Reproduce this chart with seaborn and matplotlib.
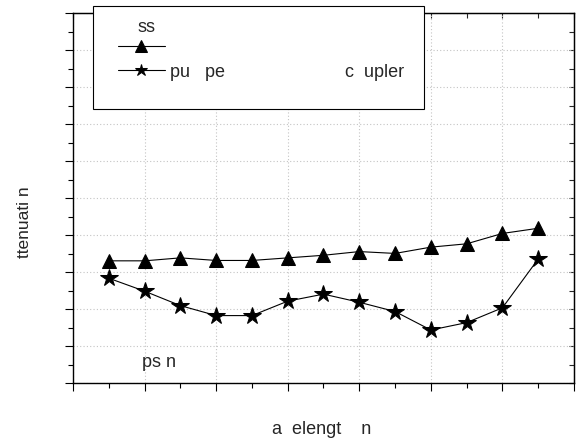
import matplotlib
matplotlib.use("Agg")
import matplotlib.pyplot as plt
import seaborn as sns
import pandas as pd
from matplotlib.ticker import MultipleLocator
from matplotlib.patches import Rectangle

# ---- data ----
wavelength = [1525, 1530, 1535, 1540, 1545, 1550, 1555, 1560, 1565, 1570, 1575, 1580, 1585]
loss_values = [3.31, 3.31, 3.39, 3.32, 3.32, 3.39, 3.46, 3.56, 3.51, 3.68, 3.77, 4.05, 4.19]
pump_values = [2.84, 2.49, 2.10, 1.83, 1.83, 2.22, 2.41, 2.19, 1.94, 1.44, 1.64, 2.04, 3.36]
series_names = ["ss", "pu   pe" + " " * 24 + "c  upler"]
x_label = "a  elengt    n"
y_label = "ttenuati n"
note_text = "ps n"

sns.set_style("white")
plt.rcParams["font.family"] = ["Liberation Sans", "DejaVu Sans"]

W, H = 577, 441
fig = plt.figure(figsize=(W / 100, H / 100), dpi=100)
ax = fig.add_axes([73 / W, 1 - 383.3 / H, 501 / W, 370 / H])

df_loss = pd.DataFrame({"wl": wavelength, "att": loss_values})
df_pump = pd.DataFrame({"wl": wavelength, "att": pump_values})

sns.lineplot(data=df_loss, x="wl", y="att", ax=ax, color="black", lw=0.8,
             marker="^", markersize=10, markeredgecolor="black",
             markeredgewidth=0.75, label=series_names[0])
sns.lineplot(data=df_pump, x="wl", y="att", ax=ax, color="black", lw=0.8,
             marker="*", markersize=13, markeredgecolor="black",
             markeredgewidth=0.75, label=series_names[1])

ax.set_xlim(1520, 1590)
ax.set_ylim(0, 10)
ax.xaxis.set_major_locator(MultipleLocator(10))
ax.xaxis.set_minor_locator(MultipleLocator(5))
ax.yaxis.set_major_locator(MultipleLocator(1))
ax.yaxis.set_minor_locator(MultipleLocator(0.5))
ax.grid(True, which="major", color="#c4c4c4", linestyle=(0, (1, 2)), lw=0.8)
ax.tick_params(which="both", direction="out", bottom=True, left=True,
               top=False, right=False, labelbottom=False, labelleft=False,
               color="black", width=0.8)
ax.tick_params(which="major", length=5.5)
ax.tick_params(which="minor", length=3.5)
for s in ax.spines.values():
    s.set_color("black")
    s.set_linewidth(1.0)

# mirrored inward ticks on top and right
secx = ax.secondary_xaxis("top")
secx.xaxis.set_major_locator(MultipleLocator(10))
secx.xaxis.set_minor_locator(MultipleLocator(5))
secx.tick_params(which="both", direction="in", labeltop=False, length=3.5, width=0.8)
secy = ax.secondary_yaxis("right")
secy.yaxis.set_major_locator(MultipleLocator(1))
secy.yaxis.set_minor_locator(MultipleLocator(0.5))
secy.tick_params(which="both", direction="in", labelright=False, length=3.5, width=0.8)

ax.set_xlabel(x_label, fontsize=13, va="baseline", ha="center")
ax.xaxis.set_label_coords(0.497, -0.137)
ax.set_ylabel(y_label, fontsize=12.5, va="center", ha="center")
ax.yaxis.set_label_coords(-0.096, 0.435)

ax.text(1529.6, 0.45, note_text, fontsize=13, va="baseline", ha="left")

handles, labels = ax.get_legend_handles_labels()
ax.get_legend().remove()

rect = Rectangle((93 / W, 1 - 109 / H), 331 / W, 103 / H, transform=fig.transFigure,
                 facecolor="white", edgecolor="black", lw=0.8, zorder=3)
fig.add_artist(rect)
leg = fig.legend(handles, ["", labels[1]], loc="upper left",
                 bbox_to_anchor=(118 / W, 1 - 39 / H), bbox_transform=fig.transFigure,
                 frameon=False, borderpad=0, borderaxespad=0, handlelength=2.6,
                 handletextpad=0.3, labelspacing=0.42, fontsize=13)
leg.legend_handles[0].set_markersize(8.5)
leg.legend_handles[1].set_markersize(9)
fig.text(138 / W, 1 - 32 / H, series_names[0], fontsize=13, va="baseline",
         ha="left", zorder=6)

fig.savefig("out.png", dpi=100)
